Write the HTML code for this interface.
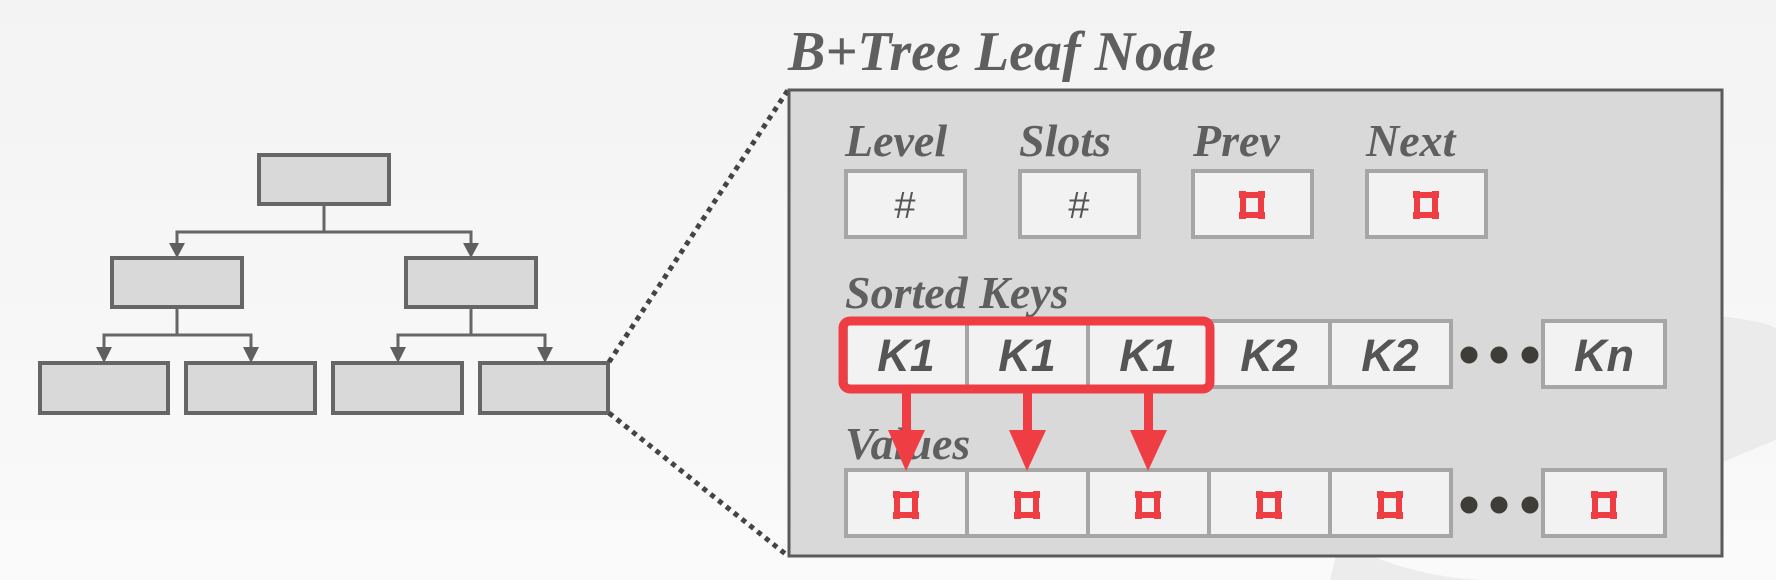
<!DOCTYPE html>
<html><head><meta charset="utf-8"><style>
html,body{margin:0;padding:0;}
body{width:1776px;height:580px;overflow:hidden;background:linear-gradient(#f3f3f3,#fafafa);}
svg{display:block;}
.t{font-family:"Liberation Serif",serif;font-style:italic;font-weight:bold;fill:#5f5f5f;}
.k{font-family:"Liberation Sans",sans-serif;font-style:italic;font-weight:bold;fill:#555;font-size:45px;text-anchor:middle;}
.h{font-family:"Liberation Sans",sans-serif;fill:#555;font-size:38px;text-anchor:middle;}
</style></head><body>
<svg width="1776" height="580" viewBox="0 0 1776 580" xmlns="http://www.w3.org/2000/svg">
<defs>
<g id="ptr">
<rect x="-9" y="-10" width="18" height="20" fill="none" stroke="#ee3d43" stroke-width="6"/>
<rect x="-13" y="-14" width="7" height="7" fill="#ee3d43"/>
<rect x="6" y="-14" width="7" height="7" fill="#ee3d43"/>
<rect x="-13" y="7" width="7" height="7" fill="#ee3d43"/>
<rect x="6" y="7" width="7" height="7" fill="#ee3d43"/>
</g>
</defs>
<path d="M1660 310 Q1776 320 1776 330 L1776 440 Q1700 470 1600 520 L1560 480 Q1700 420 1700 360 Z" fill="#e6e6e6" opacity="0.7"/>
<path d="M1340 540 Q1400 575 1480 580 L1330 580 Z" fill="#e6e6e6" opacity="0.7"/>
<g fill="#d9d9d9" stroke="#666" stroke-width="4">
<rect x="259" y="155" width="130" height="49"/>
<rect x="112" y="258" width="130" height="49"/>
<rect x="406" y="258" width="130" height="49"/>
<rect x="40" y="363" width="128" height="50"/>
<rect x="186" y="363" width="129" height="50"/>
<rect x="333" y="363" width="129" height="50"/>
<rect x="480" y="363" width="128" height="50"/>
</g>
<g fill="none" stroke="#666" stroke-width="3">
<path d="M324 204 V232 M177 244 V232 H471 V244"/>
<path d="M177 307 V335 M104 348 V335 H251 V348"/>
<path d="M471 307 V335 M398 348 V335 H545 V348"/>
</g>
<g fill="#5f5f5f">
<path d="M169 243 L185 243 L177 258 Z"/>
<path d="M463 243 L479 243 L471 258 Z"/>
<path d="M96 347 L112 347 L104 363 Z"/>
<path d="M243 347 L259 347 L251 363 Z"/>
<path d="M390 347 L406 347 L398 363 Z"/>
<path d="M537 347 L553 347 L545 363 Z"/>
</g>
<g stroke="#444" stroke-width="5" stroke-dasharray="5 5" fill="none">
<line x1="609" y1="362" x2="788" y2="90"/>
<line x1="609" y1="413" x2="788" y2="556"/>
</g>
<text class="t" x="788" y="70" font-size="56">B+Tree Leaf Node</text>
<rect x="789" y="90" width="933" height="466" fill="#d9d9d9" stroke="#5a5a5a" stroke-width="3"/>
<g class="t" font-size="46">
<text x="845" y="156">Level</text>
<text x="1019" y="156">Slots</text>
<text x="1193" y="156">Prev</text>
<text x="1366" y="156">Next</text>
<text x="845" y="308">Sorted Keys</text>
<text x="845" y="459">Values</text>
</g>
<g fill="#f2f2f2" stroke="#a6a6a6" stroke-width="4">
<rect x="846" y="171" width="119" height="66"/>
<rect x="1020" y="171" width="119" height="66"/>
<rect x="1193" y="171" width="119" height="66"/>
<rect x="1367" y="171" width="119" height="66"/>
<rect x="846" y="321" width="121" height="66"/>
<rect x="967" y="321" width="121" height="66"/>
<rect x="1088" y="321" width="121" height="66"/>
<rect x="1209" y="321" width="121" height="66"/>
<rect x="1330" y="321" width="121" height="66"/>
<rect x="1543" y="321" width="122" height="66"/>
<rect x="846" y="470" width="121" height="66"/>
<rect x="967" y="470" width="121" height="66"/>
<rect x="1088" y="470" width="121" height="66"/>
<rect x="1209" y="470" width="121" height="66"/>
<rect x="1330" y="470" width="121" height="66"/>
<rect x="1543" y="470" width="122" height="66"/>
</g>
<text class="h" x="905" y="218">#</text>
<text class="h" x="1079" y="218">#</text>
<use href="#ptr" x="1252" y="205"/><use href="#ptr" x="1426" y="205"/>
<use href="#ptr" x="906" y="505"/><use href="#ptr" x="1027" y="505"/><use href="#ptr" x="1148" y="505"/>
<use href="#ptr" x="1269" y="505"/><use href="#ptr" x="1390" y="505"/><use href="#ptr" x="1604" y="505"/>
<g class="k">
<text x="906" y="371">K1</text><text x="1027" y="371">K1</text><text x="1148" y="371">K1</text>
<text x="1269" y="371">K2</text><text x="1390" y="371">K2</text><text x="1604" y="371">Kn</text>
</g>
<g fill="#3f3d38">
<circle cx="1469" cy="355" r="8.5"/><circle cx="1499" cy="355" r="8.5"/><circle cx="1530" cy="355" r="8.5"/>
<circle cx="1469" cy="505" r="8.5"/><circle cx="1499" cy="505" r="8.5"/><circle cx="1530" cy="505" r="8.5"/>
</g>
<rect x="843" y="321" width="367" height="68" rx="7" fill="none" stroke="#ee3d43" stroke-width="9"/>
<g fill="#ee3d43">
<rect x="902" y="392" width="9" height="40"/><path d="M888 430 L925 430 L906 471 Z"/>
<rect x="1023" y="392" width="9" height="40"/><path d="M1009 430 L1046 430 L1027 471 Z"/>
<rect x="1144" y="392" width="9" height="40"/><path d="M1130 430 L1167 430 L1148 471 Z"/>
</g>
</svg>
</body></html>
